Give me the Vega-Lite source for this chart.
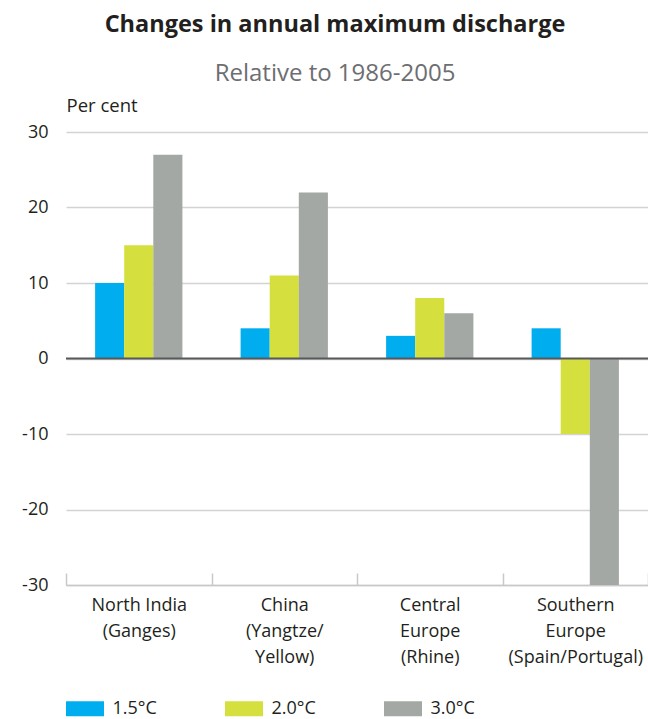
{
  "$schema": "https://vega.github.io/schema/vega-lite/v6.json",
  "width": 582,
  "height": 453,
  "autosize": {"type": "none"},
  "padding": {"left": 66, "top": 132, "right": 0, "bottom": 134},
  "background": "white",
  "config": {
    "font": "Open Sans",
    "view": {"stroke": null},
    "axis": {"labelColor": "#231f20", "titleColor": "#231f20", "labelFontSize": 18, "labelFont": "Open Sans"}
  },
  "title": {
    "text": "Changes in annual maximum discharge",
    "subtitle": "Relative to 1986-2005",
    "anchor": "middle",
    "frame": "group",
    "dx": -22,
    "offset": 10,
    "font": "Open Sans",
    "fontSize": 23.5,
    "fontWeight": "bold",
    "color": "#231f20",
    "subtitleFont": "Open Sans",
    "subtitleFontSize": 24,
    "subtitleColor": "#6d6e71",
    "subtitlePadding": 26
  },
  "data": {
    "values": [
      {"region": "North India|(Ganges)", "scenario": "1.5°C", "value": 10},
      {"region": "North India|(Ganges)", "scenario": "2.0°C", "value": 15},
      {"region": "North India|(Ganges)", "scenario": "3.0°C", "value": 27},
      {"region": "China|(Yangtze/|Yellow)", "scenario": "1.5°C", "value": 4},
      {"region": "China|(Yangtze/|Yellow)", "scenario": "2.0°C", "value": 11},
      {"region": "China|(Yangtze/|Yellow)", "scenario": "3.0°C", "value": 22},
      {"region": "Central|Europe|(Rhine)", "scenario": "1.5°C", "value": 3},
      {"region": "Central|Europe|(Rhine)", "scenario": "2.0°C", "value": 8},
      {"region": "Central|Europe|(Rhine)", "scenario": "3.0°C", "value": 6},
      {"region": "Southern|Europe|(Spain/Portugal)", "scenario": "1.5°C", "value": 4},
      {"region": "Southern|Europe|(Spain/Portugal)", "scenario": "2.0°C", "value": -10},
      {"region": "Southern|Europe|(Spain/Portugal)", "scenario": "3.0°C", "value": -30}
    ]
  },
  "layer": [
    {
      "mark": {"type": "bar"},
      "encoding": {
        "x": {
          "field": "region",
          "type": "nominal",
          "sort": null,
          "scale": {"paddingInner": 0, "paddingOuter": 0},
          "axis": {
            "title": null,
            "labelAngle": 0,
            "labelExpr": "split(datum.label, '|')",
            "labelLineHeight": 26,
            "labelBaseline": "top",
            "labelPadding": 23,
            "tickBand": "extent",
            "tickSize": -12,
            "tickColor": "#c8c8c8",
            "tickWidth": 1.5,
            "domainColor": "#c8c8c8",
            "domainWidth": 1.5
          }
        },
        "xOffset": {"field": "scenario", "type": "nominal", "scale": {"paddingInner": 0, "paddingOuter": 1}},
        "y": {
          "field": "value",
          "type": "quantitative",
          "scale": {"domain": [-30, 30], "nice": false},
          "axis": {
            "values": [-30, -20, -10, 0, 10, 20, 30],
            "labelExpr": "'' + datum.value",
            "title": "Per cent",
            "titleAngle": 0,
            "titleAlign": "left",
            "titleBaseline": "alphabetic",
            "titleX": 0,
            "titleY": -21,
            "titleFontWeight": "normal",
            "titleFontSize": 18.5,
            "titleFont": "Open Sans",
            "domain": false,
            "ticks": false,
            "labelPadding": 18,
            "grid": true,
            "gridColor": "#d1d3d4",
            "gridWidth": 1.5
          }
        },
        "color": {
          "field": "scenario",
          "type": "nominal",
          "scale": {"domain": ["1.5°C", "2.0°C", "3.0°C"], "range": ["#00aeef", "#d5df3d", "#a3a8a4"]},
          "legend": {
            "title": null,
            "orient": "none",
            "legendX": 9.5,
            "legendY": 567,
            "direction": "horizontal",
            "symbolType": "M-2,-0.8H2V0.8H-2Z",
            "symbolSize": 361,
            "symbolStrokeWidth": 0,
            "symbolOpacity": 1,
            "labelFontSize": 18,
            "labelFont": "Open Sans",
            "labelColor": "#231f20",
            "labelOffset": 18,
            "columnPadding": 67
          }
        }
      }
    },
    {
      "data": {"values": [{"zero": 0}]},
      "mark": {"type": "rule", "color": "#58595b", "strokeWidth": 2},
      "encoding": {"y": {"field": "zero", "type": "quantitative"}}
    }
  ]
}
